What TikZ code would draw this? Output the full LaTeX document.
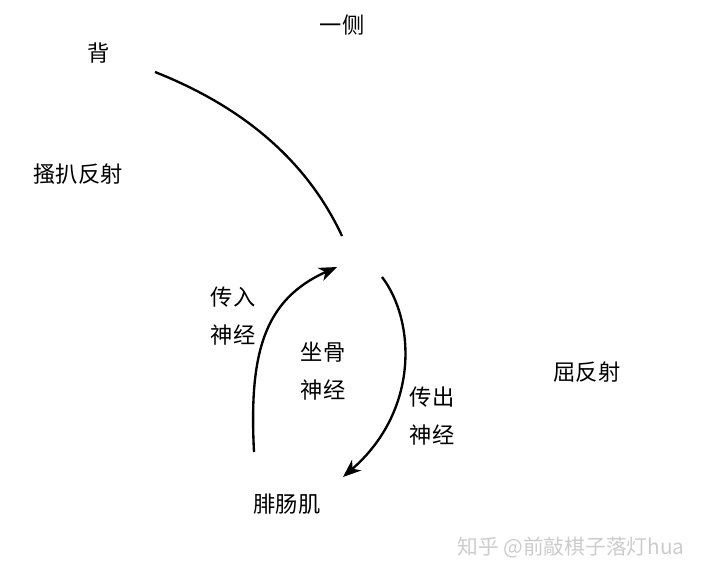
\documentclass[tikz,border=0pt]{standalone}
\usepackage{fontspec}
\newfontfamily\cjk{Noto Sans CJK SC}
\usetikzlibrary{arrows.meta,positioning}

\begin{document}
\begin{tikzpicture}[
  x=0.03cm, y=-0.03cm,
  lbl/.style={font=\cjk\fontsize{19}{32}\selectfont, align=center, inner sep=1pt},
  wm/.style={font=\cjk\fontsize{17.7}{20}\selectfont, text=black!20, inner sep=0pt},
  nerve/.style={line width=2pt},
  arr/.style={nerve, -{Stealth[length=5.4mm, width=4.2mm, inset=1.6mm]}}
]
  \useasboundingbox (0,0) rectangle (703,577);
  % labels
  \node[lbl] (side) at (342,25) {一侧};
  \node[lbl] (back) at (99,53) {背};
  \node[lbl] (scratch) at (78,174) {搔扒反射};
  \node[lbl] (afferent) at (233,316) {传入\\神经};
  \node[lbl] (sciatic) at (323,371) {坐骨\\神经};
  \node[lbl] (efferent) at (432,416) {传出\\神经};
  \node[lbl] (flexor) at (587,372) {屈反射};
  \node[lbl] (muscle) at (287,504) {腓肠肌};
  \node[wm] (mark) at (571,548) {知乎 @前敲棋子落灯hua};
  % curve ends
  \coordinate (spinetop) at (155,72);
  \coordinate (spinebot) at (342,236);
  \coordinate (inbot) at (254,452);
  \coordinate (intop) at (337,267);
  \coordinate (outtop) at (382,277);
  \coordinate (outbot) at (343,477);
  % nerves
  \draw[nerve] (spinetop) .. controls (246,108) and (308,163) .. (spinebot);
  \draw[arr] (inbot) .. controls (249,355) and (263,300) .. (intop);
  \draw[arr] (outtop) .. controls (415,320) and (420,410) .. (outbot);
\end{tikzpicture}
\end{document}
